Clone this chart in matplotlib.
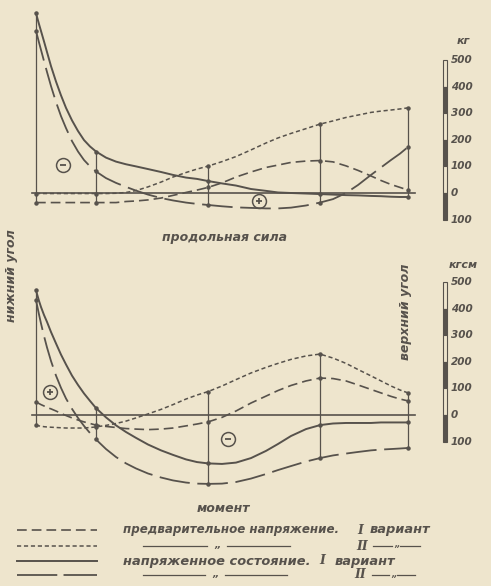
import matplotlib
matplotlib.use('Agg')
import matplotlib.pyplot as plt

# position along the member (common grid for both diagrams)
x_pos = [0, 0.01, 0.03, 0.05, 0.08, 0.11, 0.15, 0.20, 0.25, 0.30, 0.36,
         0.42, 0.48, 0.54, 0.60, 0.70, 0.80, 0.90, 1.00, 1.12, 1.25,
         1.37, 1.50, 1.61, 1.72, 1.86, 2.00, 2.15, 2.30, 2.42, 2.55,
         2.70, 2.84, 2.97, 3.10, 3.22, 3.35, 3.45, 3.55, 3.64, 3.72]
station_idx = [0, 14, 24, 32, 40]

# продольная сила, кг
top_pre1 = [-36, -36, -36, -36, -36, -36, -36, -36, -36, -36, -36,
            -36, -36, -36, -36, -36, -36, -32, -30, -26, -19,
            -9, 2, 11, 21, 38, 60, 79, 96, 105, 115,
            120, 122, 117, 102, 85, 64, 47, 32, 21, 11]
top_pre2 = [-2, -2, -2, -2, -2, -2, -2, -2, -2, -2, -2,
            -2, -2, -2, -2, -2, -1, 2, 9, 23, 41,
            60, 77, 90, 101, 118, 137, 162, 188, 207, 224,
            242, 259, 271, 284, 293, 303, 308, 312, 316, 320]
top_state1 = [677, 662, 635, 609, 570, 530, 477, 419, 367, 320, 273,
              233, 199, 175, 156, 133, 118, 108, 100, 90, 79,
              68, 58, 53, 45, 36, 28, 15, 8, 2, 0,
              -2, -4, -6, -8, -9, -11, -12, -14, -15, -15]
top_state2 = [609, 595, 566, 538, 496, 455, 402, 342, 289, 244, 195,
              156, 124, 100, 81, 56, 38, 23, 9, -6, -19,
              -28, -36, -41, -45, -50, -54, -56, -58, -58, -55,
              -47, -36, -23, 0, 30, 68, 96, 124, 148, 173]

# момент, кгсм
bot_pre1 = [49, 47, 43, 39, 34, 28, 23, 15, 6, -2, -11,
            -19, -26, -32, -38, -43, -47, -51, -53, -55, -53,
            -49, -41, -34, -26, -9, 15, 45, 71, 92, 111,
            128, 139, 137, 128, 113, 96, 83, 70, 60, 53]
bot_pre2 = [-38, -39, -41, -42, -44, -45, -46, -47, -48, -49, -49,
            -49, -49, -47, -45, -39, -32, -23, -11, 4, 21,
            39, 60, 75, 88, 109, 133, 158, 179, 194, 209,
            222, 229, 214, 194, 171, 147, 128, 109, 94, 83]
bot_state1 = [470, 455, 429, 406, 376, 350, 312, 269, 227, 190, 148,
              113, 81, 53, 26, -9, -39, -64, -86, -111, -133,
              -150, -167, -177, -182, -184, -179, -162, -135, -109, -79,
              -53, -38, -32, -30, -30, -30, -28, -28, -28, -28]
bot_state2 = [432, 414, 378, 344, 297, 254, 203, 148, 102, 62, 23,
              -11, -41, -68, -92, -128, -158, -182, -201, -220, -235,
              -246, -254, -258, -259, -258, -252, -239, -222, -207, -192,
              -175, -162, -152, -145, -139, -133, -130, -128, -126, -124]

scale_ticks = [500, 400, 300, 200, 100, 0, -100]
scale_labels = ['500', '400', '300', '200', '100', '0', '100']

paper = '#eee5cd'
ink = '#57524c'

plt.rcParams['lines.scale_dashes'] = False
plt.rcParams['font.family'] = ['DejaVu Sans']
plt.rcParams['font.weight'] = 'bold'
plt.rcParams['font.style'] = 'oblique'

styles = {
    'pre1': dict(color=ink, lw=1.2, linestyle=(0, (7, 3.6))),
    'pre2': dict(color=ink, lw=1.1, linestyle=(0, (3, 2))),
    'state1': dict(color=ink, lw=1.4, linestyle='-'),
    'state2': dict(color=ink, lw=1.3, linestyle=(0, (22, 5.5))),
}

W, H = 491, 586
fig = plt.figure(figsize=(W / 100, H / 100), dpi=100)
fig.patch.set_facecolor(paper)


def panel(rect, ylim, curves, signs, unit, unit_v):
    ax = fig.add_axes(rect)
    ax.set_xlim(-0.36, 4.55)
    ax.set_ylim(*ylim)
    ax.axis('off')
    # zero line
    ax.plot([-0.04, 3.79], [0, 0], color=ink, lw=1.2)
    # stations
    for i in station_idx:
        vals = [c[1][i] for c in curves]
        ax.plot([x_pos[i], x_pos[i]], [min(vals), max(vals)], color=ink, lw=0.9)
    for name, ys in curves:
        ax.plot(x_pos, ys, **styles[name])
        ax.plot([x_pos[i] for i in station_idx], [ys[i] for i in station_idx],
                'o', color=ink, ms=2.2)
    for sx, sy, sg in signs:
        ax.plot(sx, sy, 'o', ms=10, mfc='none', mec=ink, mew=1.1)
        ax.plot(sx, sy, '+' if sg > 0 else '_', ms=4.5, mew=1.3, color=ink)
    # scale bar
    fills = [paper, ink, paper, ink, paper, ink]
    for k in range(len(scale_ticks) - 1):
        ax.bar(4.09, scale_ticks[k] - scale_ticks[k + 1], bottom=scale_ticks[k + 1],
               width=0.045, color=fills[k], edgecolor=ink, lw=0.8)
    for t, lab in zip(scale_ticks, scale_labels):
        ax.text(4.15, t, lab, fontsize=7.5, color=ink, va='center', ha='left')
    ax.text(4.27, unit_v, unit, fontsize=8, color=ink, va='center', ha='center')
    return ax


top = panel([0, 1 - 250 / H, 1, 250 / H], (-214.3, 725.6),
            [('pre1', top_pre1), ('pre2', top_pre2),
             ('state1', top_state1), ('state2', top_state2)],
            [(0.267, 105, -1), (2.23, -30, 1)], 'кг', 571)
bot = panel([0, 1 - 495 / H, 1, 245 / H], (-300.8, 620.3),
            [('pre1', bot_pre1), ('pre2', bot_pre2),
             ('state1', bot_state1), ('state2', bot_state2)],
            [(0.14, 88, 1), (1.92, -90, -1)], 'кгсм', 564)

# overlay in pixel units for captions and legend
lg = fig.add_axes([0, 0, 1, 1])
lg.set_xlim(0, W)
lg.set_ylim(H, 0)
lg.axis('off')
lg.patch.set_alpha(0)

lg.text(225, 237, 'продольная сила', fontsize=9, color=ink, ha='center', va='center')
lg.text(223, 508, 'момент', fontsize=9, color=ink, ha='center', va='center')
lg.text(12, 276, 'нижний угол', fontsize=9, color=ink, ha='center', va='center', rotation=90)
lg.text(406, 312, 'верхний угол', fontsize=9, color=ink, ha='center', va='center', rotation=90)

rows_y = [530, 546, 561, 575]
legend_styles = ['pre1', 'pre2', 'state1', 'state2']
for ry, st in zip(rows_y, legend_styles):
    kw = dict(styles[st])
    if st == 'state2':
        kw['linestyle'] = (0, (29, 4.5))
    lg.plot([17, 97], [ry, ry], **kw)

thin = dict(color=ink, lw=0.9)
lg.text(123, 530, 'предварительное напряжение.', fontsize=8.6, color=ink, va='center')
lg.text(360, 530, 'I', fontsize=9, color=ink, va='center', ha='center', family='DejaVu Serif')
lg.text(370, 530, 'вариант', fontsize=9.4, color=ink, va='center')
lg.text(123, 561, 'напряженное состояние.', fontsize=9.4, color=ink, va='center')
lg.text(322, 561, 'I', fontsize=9, color=ink, va='center', ha='center', family='DejaVu Serif')
lg.text(335, 561, 'вариант', fontsize=9.4, color=ink, va='center')

for ry, a, b, c, d, e in [(546, 143, 290, 217, 362, (373, 420)),
                          (575, 143, 287, 215, 360, (372, 415))]:
    lg.plot([a, c - 10], [ry, ry], **thin)
    lg.plot([c + 10, b], [ry, ry], **thin)
    lg.text(c, ry - 1, '„', fontsize=7, color=ink, ha='center', va='center')
    lg.text(d, ry, 'II', fontsize=9, color=ink, ha='center', va='center', family='DejaVu Serif')
    mid = (e[0] + e[1]) / 2
    lg.plot([e[0], mid - 4], [ry, ry], **thin)
    lg.plot([mid + 4, e[1]], [ry, ry], **thin)
    lg.text(mid, ry - 1, '„', fontsize=6, color=ink, ha='center', va='center')

fig.savefig('out.png', dpi=100, facecolor=paper)
